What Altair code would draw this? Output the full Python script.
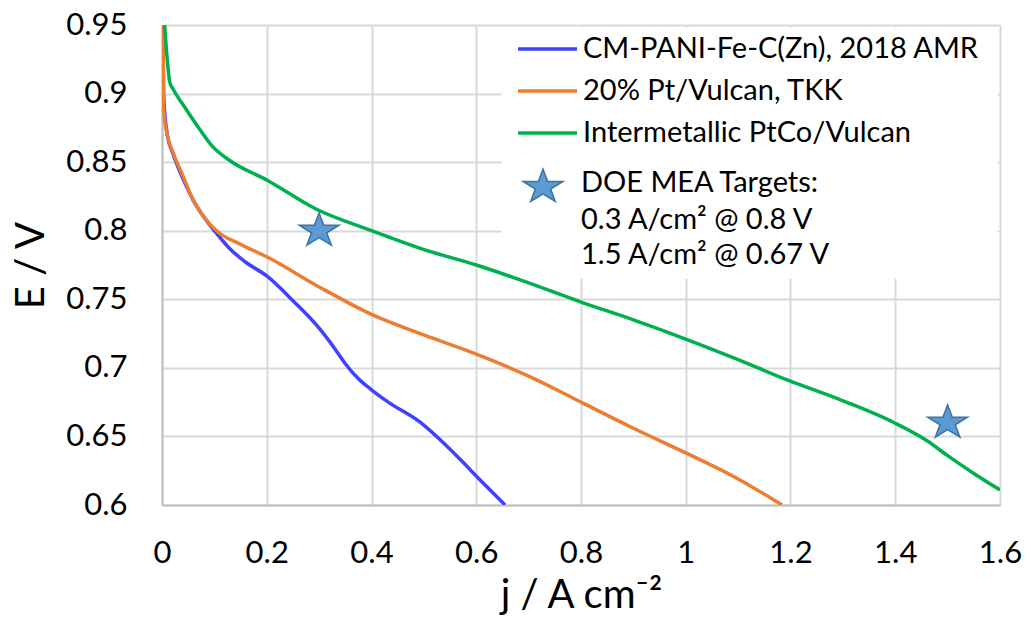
import altair as alt
import pandas as pd

# ---- data ----
series_names = ["CM-PANI-Fe-C(Zn), 2018 AMR", "20% Pt/Vulcan, TKK", "Intermetallic PtCo/Vulcan"]
series_colors = ["#4040FF", "#ED7D31", "#00B050"]

pani_j = [0.002, 0.003, 0.01, 0.02, 0.04, 0.06, 0.08, 0.1, 0.129, 0.16, 0.2, 0.25, 0.3, 0.33, 0.35, 0.375, 0.4, 0.432, 0.494, 0.527, 0.57, 0.608, 0.655]
pani_E = [0.95, 0.90, 0.87, 0.857, 0.838, 0.822, 0.81, 0.80, 0.787, 0.777, 0.767, 0.749, 0.729, 0.714, 0.703, 0.692, 0.684, 0.675, 0.66, 0.649, 0.633, 0.618, 0.60]

pt_j = [0.002, 0.003, 0.01, 0.02, 0.04, 0.06, 0.08, 0.104, 0.15, 0.2, 0.3, 0.4, 0.5, 0.6, 0.7, 0.8, 0.9, 1.0, 1.1, 1.184]
pt_E = [0.95, 0.89, 0.87, 0.858, 0.84, 0.822, 0.81, 0.80, 0.79, 0.781, 0.759, 0.739, 0.724, 0.71, 0.694, 0.675, 0.656, 0.638, 0.619, 0.60]

ptco_j = [0.005, 0.015, 0.02, 0.04, 0.07, 0.095, 0.13, 0.2, 0.293, 0.4, 0.502, 0.6, 0.7, 0.8, 0.9, 1.0, 1.1, 1.195, 1.3, 1.398, 1.46, 1.5, 1.55, 1.6]
ptco_E = [0.95, 0.908, 0.904, 0.892, 0.875, 0.862, 0.851, 0.837, 0.816, 0.80, 0.786, 0.775, 0.762, 0.748, 0.735, 0.721, 0.706, 0.691, 0.676, 0.66, 0.647, 0.636, 0.623, 0.611]

target_j = [0.3, 1.5]
target_E = [0.80, 0.66]

x_ticks = [0, 0.2, 0.4, 0.6, 0.8, 1.0, 1.2, 1.4, 1.6]
y_ticks = [0.6, 0.65, 0.7, 0.75, 0.8, 0.85, 0.9, 0.95]

doe_lines = ["DOE MEA Targets:", "0.3 A/cm\u00b2 @ 0.8 V", "1.5 A/cm\u00b2 @ 0.67 V"]

# five-pointed star symbol (slightly flattened like the Excel marker)
STAR = ("M0,-0.85L0.2245,-0.263L0.9511,-0.263L0.3633,0.1L0.5878,0.688"
        "L0,0.325L-0.5878,0.688L-0.3633,0.1L-0.9511,-0.263L-0.2245,-0.263Z")
STAR_SIZE = 1750

# ---- tables ----
rows = []
for name, js, Es in zip(series_names, [pani_j, pt_j, ptco_j], [pani_E, pt_E, ptco_E]):
    for i, (j, E) in enumerate(zip(js, Es)):
        rows.append({"series": name, "j": j, "E": E, "idx": i})
curves = pd.DataFrame(rows)
targets = pd.DataFrame({"j": target_j, "E": target_E})
one = pd.DataFrame({"k": [0]})

FONT = "Lato"
LEG_FS = 29
W, H = 838, 480
LX = 340  # legend box left edge (plot px)

xscale = alt.Scale(domain=[0, 1.6], nice=False, zero=False)
yscale = alt.Scale(domain=[0.6, 0.95], nice=False, zero=False)

xaxis = alt.Axis(
    values=x_ticks, format=".1~f", title="j / A cm\u207b\u00b2",
    grid=True, gridColor="#D9D9D9", gridWidth=2,
    domainColor="#BFBFBF", domainWidth=2, ticks=False, tickSize=0,
    labelFont=FONT, labelFontSize=31, labelColor="#000000", labelPadding=33,
    labelFlush=False, labelOverlap=False,
    titleFont=FONT, titleFontSize=40, titleFontWeight="normal", titleColor="#000000",
    titleX=W / 2, titleY=102, titleAlign="center", titleBaseline="alphabetic",
)
yaxis = alt.Axis(
    values=y_ticks, format=".2~f", title="E / V",
    grid=True, gridColor="#D9D9D9", gridWidth=2,
    domainColor="#BFBFBF", domainWidth=2, ticks=False, tickSize=0,
    labelFont=FONT, labelFontSize=31, labelColor="#000000", labelPadding=35,
    labelFlush=False, labelOverlap=False,
    titleFont=FONT, titleFontSize=40, titleFontWeight="normal", titleColor="#000000",
    titleX=-131, titleY=H / 2, titleAngle=270, titleAlign="center", titleBaseline="middle",
)

legend_box = alt.Chart(one).mark_rect(fill="white", stroke="white").encode(
    x=alt.value(LX), x2=alt.value(W - 3), y=alt.value(3), y2=alt.value(253)
)

lines = alt.Chart(curves).mark_line(strokeWidth=3.5, interpolate="monotone", clip=True).encode(
    x=alt.X("j:Q", scale=xscale, axis=xaxis),
    y=alt.Y("E:Q", scale=yscale, axis=yaxis),
    color=alt.Color("series:N", scale=alt.Scale(domain=series_names, range=series_colors), legend=None),
    order="idx:Q",
)

stars = alt.Chart(targets).mark_point(
    shape=STAR, filled=True, size=STAR_SIZE, fill="#5B9BD5", stroke="#41719C",
    strokeWidth=1.5, opacity=1
).encode(
    x=alt.X("j:Q", scale=xscale),
    y=alt.Y("E:Q", scale=yscale),
)

layers = [legend_box, lines, stars]

legend_rows_y = [24, 66, 108]
for name, col, yy in zip(series_names, series_colors, legend_rows_y):
    layers.append(alt.Chart(one).mark_rule(strokeWidth=3.5, color=col).encode(
        x=alt.value(LX + 16), x2=alt.value(LX + 75), y=alt.value(yy)))
    layers.append(alt.Chart(one).mark_text(
        align="left", baseline="middle", font=FONT, fontSize=LEG_FS, color="#000000"
    ).encode(x=alt.value(LX + 81), y=alt.value(yy), text=alt.value(name)))

layers.append(alt.Chart(one).mark_point(
    shape=STAR, filled=True, size=STAR_SIZE, fill="#5B9BD5", stroke="#41719C",
    strokeWidth=1.5, opacity=1
).encode(x=alt.value(LX + 41), y=alt.value(162)))

for txt, yy in zip(doe_lines, [158, 195, 230]):
    layers.append(alt.Chart(one).mark_text(
        align="left", baseline="middle", font=FONT, fontSize=LEG_FS, color="#000000"
    ).encode(x=alt.value(LX + 79), y=alt.value(yy), text=alt.value(txt)))

chart = alt.layer(*layers).properties(
    width=W, height=H,
    autosize=alt.AutoSizeParams(type="none"),
    padding={"left": 154, "top": 17, "right": 23, "bottom": 112},
    background="white",
).configure_view(stroke="transparent")

chart.save("out.html", embed_options={"renderer": "svg", "actions": False})
